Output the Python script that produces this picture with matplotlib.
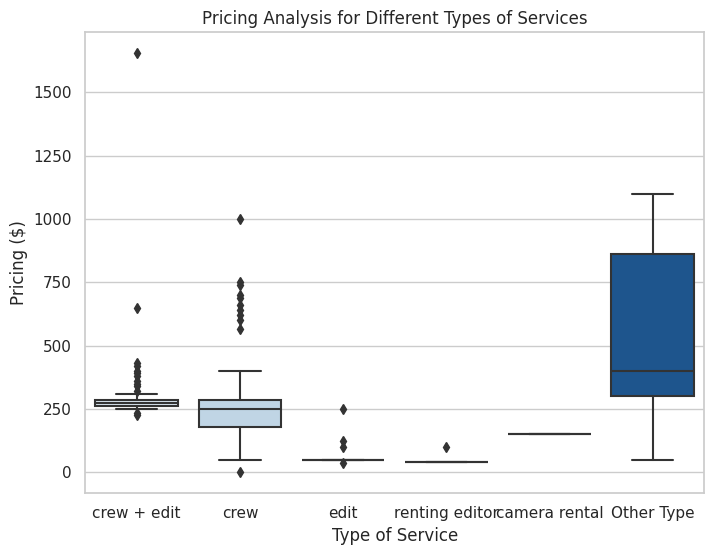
import matplotlib
matplotlib.use("Agg")
import matplotlib.pyplot as plt
import seaborn as sns

# box statistics
services = ["crew + edit", "crew", "edit", "renting editor", "camera rental", "Other Type"]
q1 = [262, 180, 50, 40, 150, 300]
median = [275, 250, 50, 40, 150, 400]
q3 = [285, 285, 50, 40, 150, 860]
whisker_low = [250, 50, 50, 40, 150, 50]
whisker_high = [310, 400, 50, 40, 150, 1100]
outliers = [
    [1655, 650, 430, 420, 400, 390, 380, 360, 350, 340, 320, 235, 225],
    [1000, 750, 740, 700, 690, 660, 640, 620, 600, 565, 0],
    [250, 125, 100, 35],
    [100],
    [],
    [],
]

sns.set_theme(style="whitegrid")

stats = []
for i, name in enumerate(services):
    stats.append(dict(label=name, q1=q1[i], med=median[i], q3=q3[i],
                      whislo=whisker_low[i], whishi=whisker_high[i],
                      fliers=outliers[i]))

colors = [sns.desaturate(c, 0.75) for c in sns.color_palette("Blues", len(services))]
line_color = "#333333"

fig, ax = plt.subplots(figsize=(7.15, 5.56), dpi=100)
fig.subplots_adjust(left=0.119, right=0.985, top=0.942, bottom=0.113)

bp = ax.bxp(stats, positions=range(len(services)), widths=0.8, patch_artist=True,
            boxprops=dict(edgecolor=line_color, linewidth=1.5),
            whiskerprops=dict(color=line_color, linewidth=1.5),
            capprops=dict(color=line_color, linewidth=1.5),
            medianprops=dict(color=line_color, linewidth=1.5),
            flierprops=dict(marker="d", markerfacecolor=line_color, markeredgecolor=line_color,
                            markersize=5, linestyle="none"))
for patch, c in zip(bp["boxes"], colors):
    patch.set_facecolor(c)

ax.set_xlim(-0.5, len(services) - 0.5)
ax.set_xticks(range(len(services)))
ax.set_xticklabels(services)
ax.xaxis.grid(False)
ax.set_title("Pricing Analysis for Different Types of Services")
ax.set_xlabel("Type of Service")
ax.set_ylabel("Pricing ($)")

plt.savefig("out.png")
